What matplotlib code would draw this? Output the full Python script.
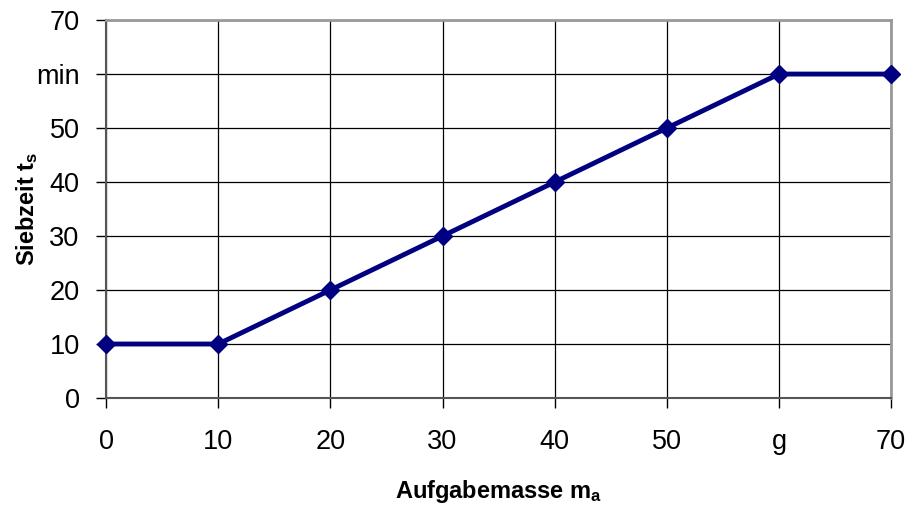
import matplotlib
matplotlib.use("Agg")
import matplotlib.pyplot as plt

plt.rcParams['font.family'] = ['Liberation Sans', 'DejaVu Sans']
plt.rcParams['mathtext.fontset'] = 'custom'
plt.rcParams['mathtext.rm'] = 'Liberation Sans'
plt.rcParams['mathtext.bf'] = 'Liberation Sans:bold'
plt.rcParams['mathtext.it'] = 'Liberation Sans:italic'

# Aufgabemasse (g) und Siebzeit (min)
masse = [0, 10, 20, 30, 40, 50, 60, 70]
siebzeit = [10, 10, 20, 30, 40, 50, 60, 60]

x_ticks = [0, 10, 20, 30, 40, 50, 60, 70]
x_labels = ["0", "10", "20", "30", "40", "50", "g", "70"]
y_ticks = [0, 10, 20, 30, 40, 50, 60, 70]
y_labels = ["0", "10", "20", "30", "40", "50", "min", "70"]

fig = plt.figure(figsize=(9.14, 5.08), dpi=100)
ax = fig.add_axes([0.116, 0.2165, 0.859, 0.744])

ax.plot(masse, siebzeit, color="#000080", linewidth=3.5, marker="D",
        markersize=9.5, markerfacecolor="#000080", markeredgecolor="#000080",
        zorder=3, clip_on=False)

ax.set_xlim(0, 70)
ax.set_ylim(0, 70)
ax.set_xticks(x_ticks)
ax.set_xticklabels(x_labels)
ax.set_yticks(y_ticks)
ax.set_yticklabels(y_labels)

ax.grid(True, color="black", linewidth=0.9)
ax.set_axisbelow(True)

for side in ("top", "right"):
    ax.spines[side].set_color("#999999")
    ax.spines[side].set_linewidth(2)
for side in ("left", "bottom"):
    ax.spines[side].set_color("#555555")
    ax.spines[side].set_linewidth(1.5)

ax.tick_params(axis="both", direction="out", length=7, width=1, color="black",
               labelsize=19.5)
ax.tick_params(axis="x", pad=15)
ax.tick_params(axis="y", pad=12)

ax.set_xlabel(r"Aufgabemasse m$_\mathbf{a}$", fontsize=17, fontweight="bold",
              labelpad=17)
ax.set_ylabel(r"Siebzeit t$_\mathbf{s}$", fontsize=17, fontweight="bold",
              va="center")
ax.yaxis.set_label_coords(-0.1, 0.5)

fig.savefig("out.png", dpi=100)
